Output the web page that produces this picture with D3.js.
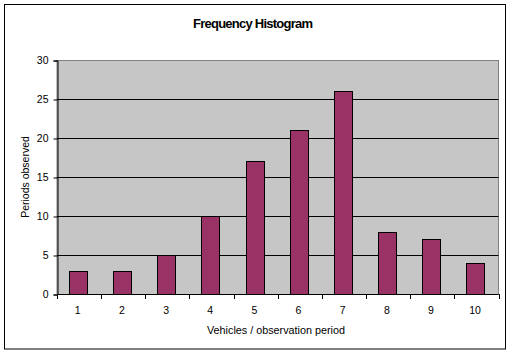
<!DOCTYPE html>
<html>
<head>
<meta charset="utf-8">
<title>Frequency Histogram</title>
<script src="https://d3js.org/d3.v7.min.js"></script>
<style>
  body { margin: 0; background: #fff; }
  svg text { font-family: Arial, "Liberation Sans", sans-serif; fill: #000; }
</style>
</head>
<body>
<div id="chart"></div>
<script>
// data
var categories = ["1", "2", "3", "4", "5", "6", "7", "8", "9", "10"];
var counts = [3, 3, 5, 10, 17, 21, 26, 8, 7, 4];
var yTicks = [0, 5, 10, 15, 20, 25, 30];

var width = 512, height = 354;
var plot = { left: 57, top: 60, right: 498.5, bottom: 294 };

var svg = d3.select("#chart").append("svg")
  .attr("width", width)
  .attr("height", height);

// outer frame
svg.append("rect")
  .attr("x", 4.5).attr("y", 4.5)
  .attr("width", 501).attr("height", 344.5)
  .attr("fill", "#fff")
  .attr("stroke", "#000")
  .attr("stroke-width", 1);

var x = d3.scaleBand()
  .domain(categories)
  .range([plot.left, plot.right])
  .paddingInner(0.6)
  .paddingOuter(0.3)
  .align(0.45);

var y = d3.scaleLinear()
  .domain([0, 30])
  .range([plot.bottom, plot.top]);

// plot area
svg.append("rect")
  .attr("x", plot.left).attr("y", plot.top + 0.5)
  .attr("width", plot.right - plot.left)
  .attr("height", plot.bottom - plot.top)
  .attr("fill", "#c6c6c6")
  .attr("stroke", "#808080")
  .attr("stroke-width", 1);

// gridlines
svg.append("g")
  .selectAll("line")
  .data(yTicks.filter(function(d) { return d > 0 && d < 30; }))
  .enter().append("line")
  .attr("x1", plot.left).attr("x2", plot.right)
  .attr("y1", function(d) { return Math.round(y(d)) + 0.5; })
  .attr("y2", function(d) { return Math.round(y(d)) + 0.5; })
  .attr("stroke", "#000")
  .attr("stroke-width", 1);

// bars
svg.append("g")
  .selectAll("rect")
  .data(counts)
  .enter().append("rect")
  .attr("x", function(d, i) { return Math.round(x(categories[i])) + 0.5; })
  .attr("y", function(d) { return Math.round(y(d)) + 0.5; })
  .attr("width", Math.round(x.bandwidth()))
  .attr("height", function(d) { return plot.bottom - Math.round(y(d)); })
  .attr("fill", "#993366")
  .attr("stroke", "#000")
  .attr("stroke-width", 1);

// y axis
var yAxis = d3.axisLeft(y)
  .tickValues(yTicks)
  .tickSize(4)
  .tickPadding(5);
var gy = svg.append("g")
  .attr("transform", "translate(" + (plot.left + 0.5) + ",0.5)")
  .call(yAxis);
gy.select(".domain").attr("stroke", "#000");
gy.selectAll(".tick line").attr("stroke", "#000");
gy.selectAll(".tick text")
  .attr("font-size", 10.5)
  .attr("font-family", "Arial, 'Liberation Sans', sans-serif");

// x axis: ticks sit on category boundaries
var boundaries = d3.range(categories.length + 1).map(function(i) {
  return plot.left + i * (plot.right - plot.left) / categories.length;
});
var gx = svg.append("g");
gx.append("line")
  .attr("x1", plot.left).attr("x2", plot.right)
  .attr("y1", plot.bottom + 0.5).attr("y2", plot.bottom + 0.5)
  .attr("stroke", "#000");
gx.selectAll("line.tk")
  .data(boundaries)
  .enter().append("line")
  .attr("class", "tk")
  .attr("x1", function(d) { return Math.round(d) + 0.5; })
  .attr("x2", function(d) { return Math.round(d) + 0.5; })
  .attr("y1", plot.bottom).attr("y2", plot.bottom + 5)
  .attr("stroke", "#000");
gx.selectAll("text")
  .data(categories)
  .enter().append("text")
  .attr("x", function(d) { return x(d) + x.bandwidth() / 2; })
  .attr("y", 314)
  .attr("text-anchor", "middle")
  .attr("font-size", 10.5)
  .text(function(d) { return d; });

// title and axis labels
svg.append("text")
  .attr("x", 253).attr("y", 28)
  .attr("text-anchor", "middle")
  .attr("font-size", 13)
  .attr("font-weight", "bold")
  .attr("textLength", 120)
  .text("Frequency Histogram");

svg.append("text")
  .attr("x", 276).attr("y", 333.5)
  .attr("text-anchor", "middle")
  .attr("font-size", 10.8)
  .text("Vehicles / observation period");

svg.append("text")
  .attr("transform", "translate(28.5," + ((plot.top + plot.bottom) / 2) + ") rotate(-90)")
  .attr("text-anchor", "middle")
  .attr("font-size", 10.5)
  .text("Periods observed");
</script>
</body>
</html>
